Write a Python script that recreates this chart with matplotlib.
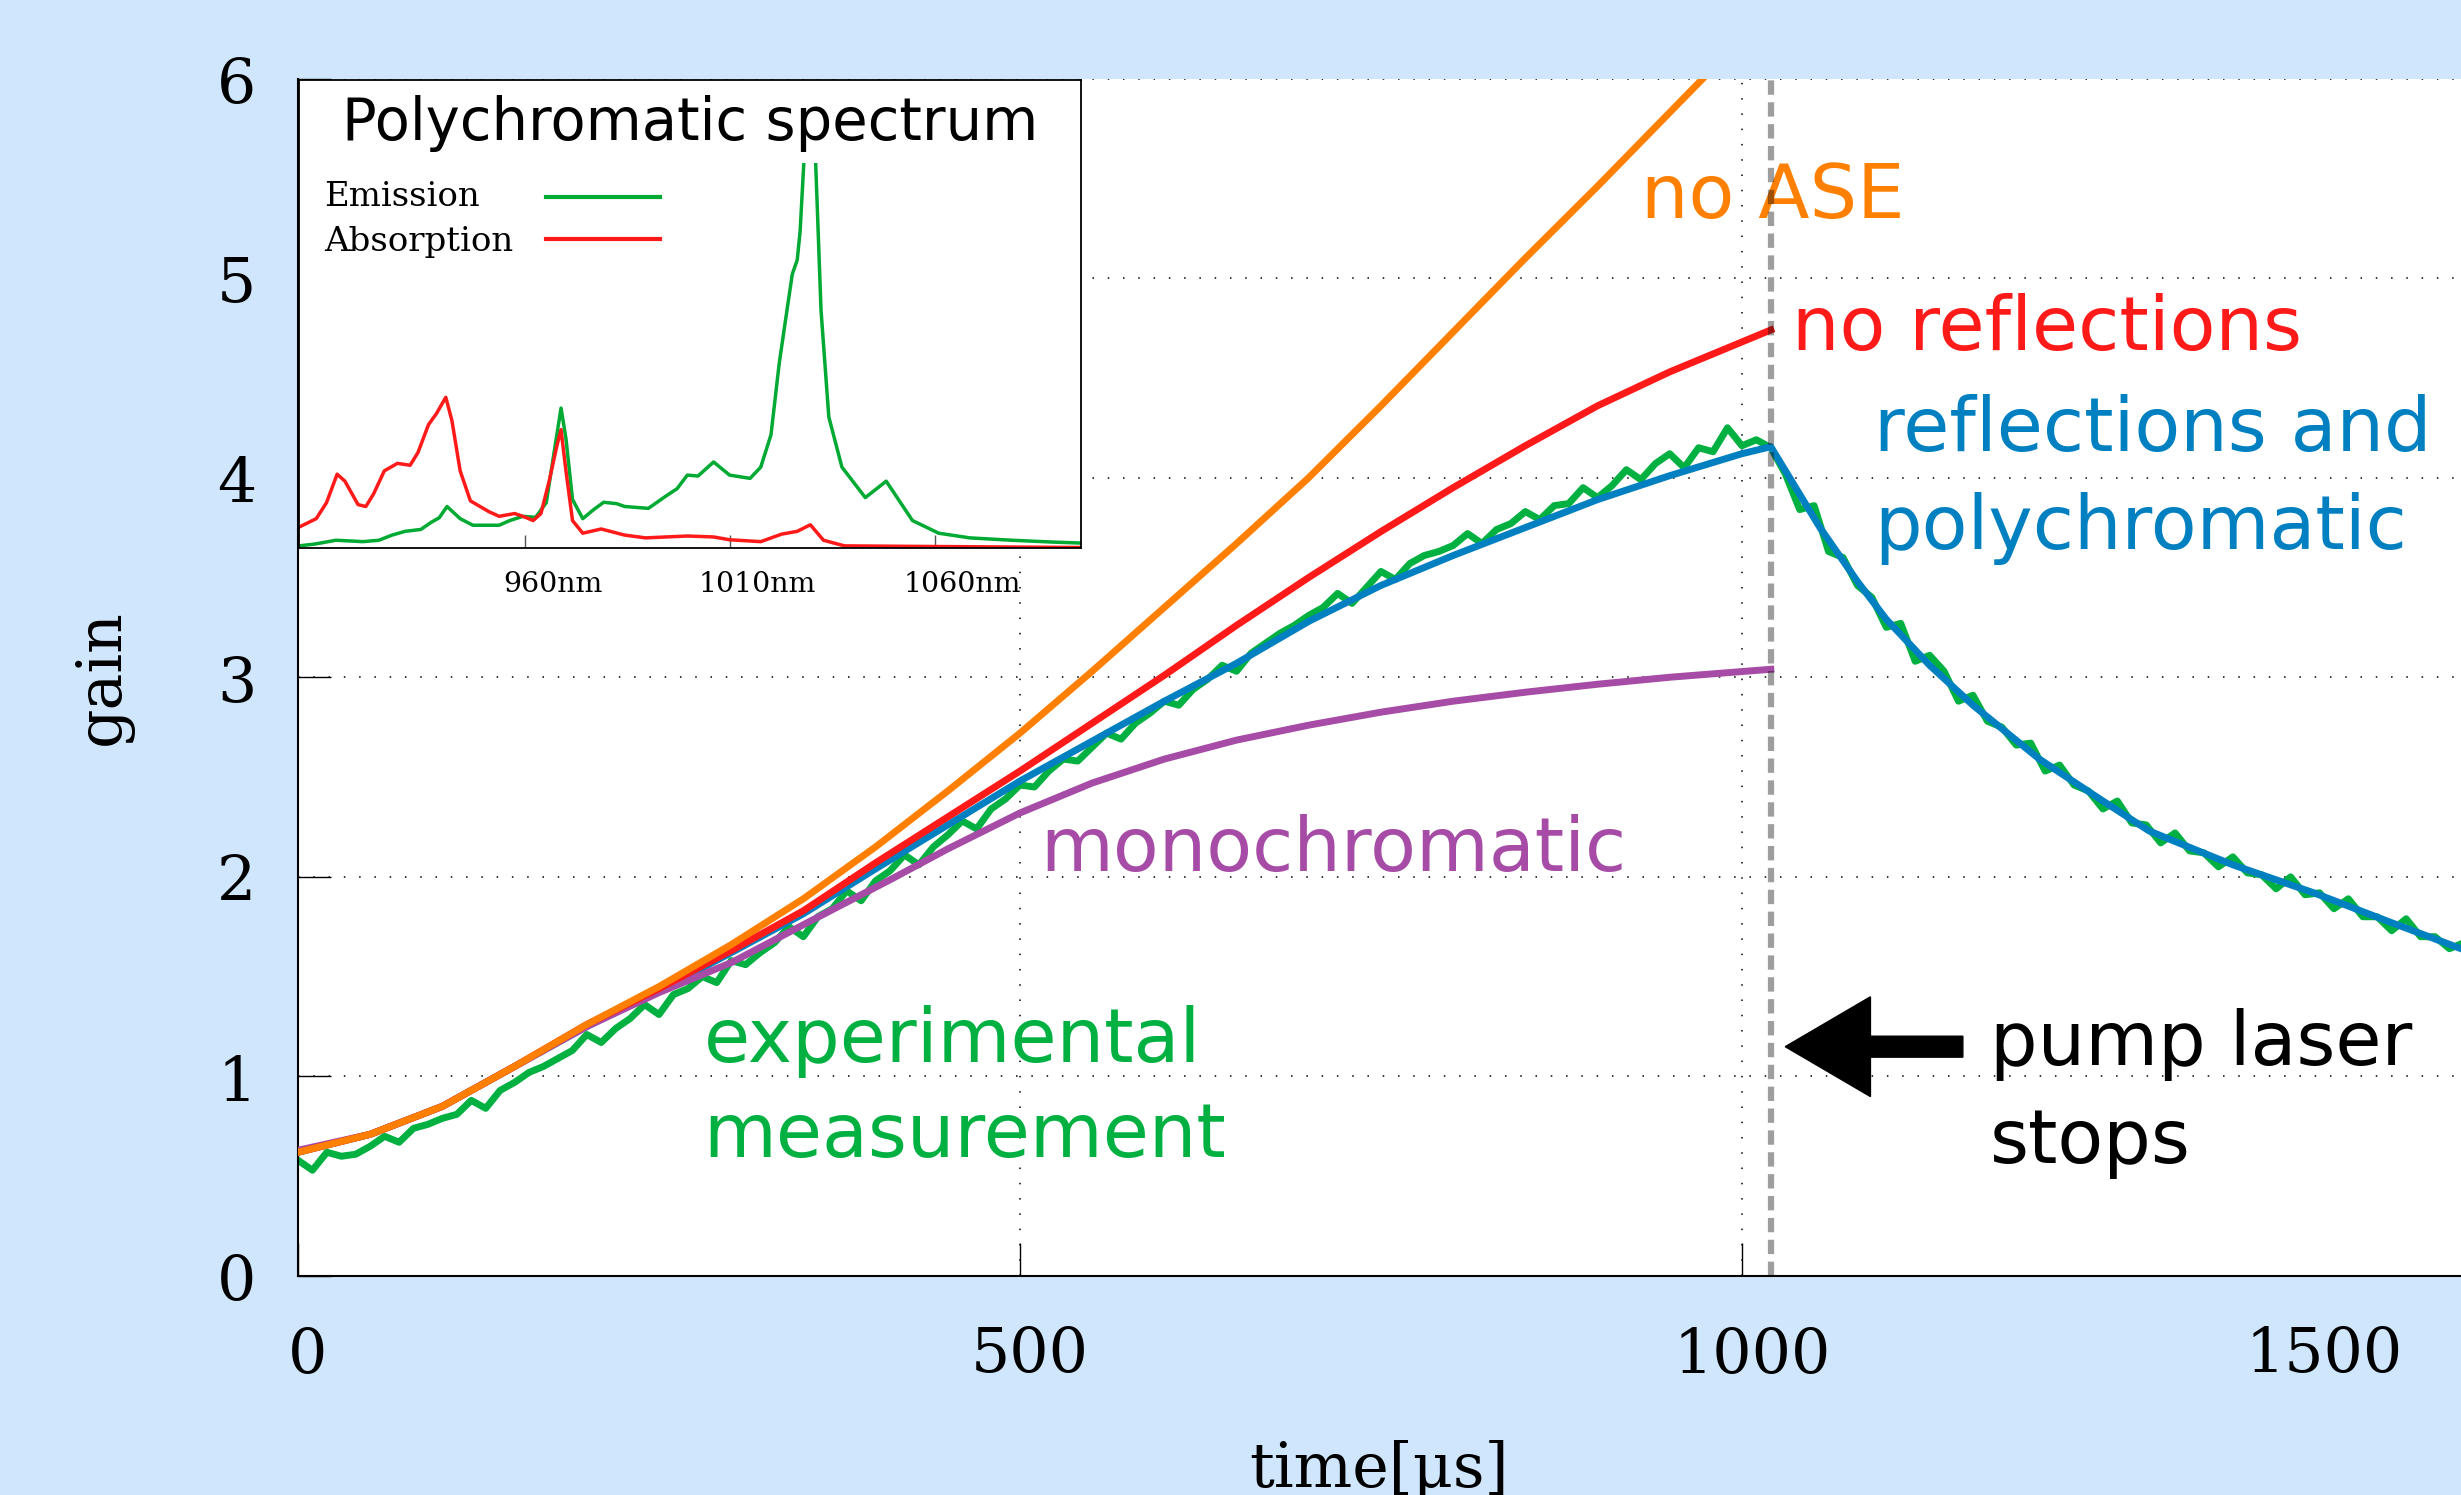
import numpy as np
import matplotlib
matplotlib.use("Agg")
import matplotlib.pyplot as plt
from matplotlib.patches import Rectangle
from matplotlib.transforms import ScaledTranslation

plt.rcParams['font.family'] = 'DejaVu Serif'

# --- model curves: time [us] -> gain ---
orange_t = [0, 50, 100, 150, 200, 250, 300, 350, 400, 450, 500, 550, 600, 650, 700, 750, 800, 850, 900, 950, 973]
orange_g = [0.62, 0.71, 0.85, 1.05, 1.26, 1.45, 1.66, 1.89, 2.15, 2.43, 2.72, 3.03, 3.35, 3.67, 4.00, 4.36, 4.73, 5.10, 5.46, 5.83, 6.00]

red_t = [0, 50, 100, 150, 200, 250, 300, 350, 400, 450, 500, 550, 600, 650, 700, 750, 800, 850, 900, 950, 1000, 1020]
red_g = [0.62, 0.71, 0.85, 1.05, 1.26, 1.44, 1.63, 1.83, 2.07, 2.30, 2.53, 2.77, 3.01, 3.26, 3.50, 3.73, 3.95, 4.16, 4.36, 4.53, 4.68, 4.74]

purple_t = [0, 50, 100, 150, 200, 250, 300, 350, 410, 450, 500, 550, 600, 650, 700, 750, 800, 850, 900, 950, 1020]
purple_g = [0.63, 0.71, 0.85, 1.05, 1.25, 1.42, 1.57, 1.76, 1.985, 2.14, 2.32, 2.47, 2.59, 2.685, 2.76, 2.825, 2.88, 2.925, 2.965, 3.00, 3.04]

blue_t = [0, 50, 100, 150, 200, 250, 300, 350, 400, 450, 500, 550, 600, 650, 700, 750, 800, 850, 900, 950, 1000, 1020,
          1054, 1080, 1100, 1130, 1160, 1206, 1250, 1282, 1340, 1396, 1450, 1498]
blue_g = [0.62, 0.71, 0.85, 1.05, 1.25, 1.43, 1.62, 1.815, 2.04, 2.26, 2.48, 2.68, 2.88, 3.07, 3.28, 3.46, 3.61, 3.75, 3.89, 4.01, 4.12, 4.155,
          3.75, 3.48, 3.29, 3.06, 2.86, 2.59, 2.38, 2.23, 2.06, 1.92, 1.77, 1.64]

# --- experimental measurement, sampled every 10 us ---
exp_t = np.arange(0, 1510, 10)
exp_g = [0.58, 0.53, 0.62, 0.60, 0.61, 0.65, 0.70, 0.67, 0.74, 0.76,
         0.79, 0.81, 0.88, 0.84, 0.93, 0.97, 1.02, 1.05, 1.09, 1.13,
         1.21, 1.17, 1.24, 1.29, 1.36, 1.31, 1.41, 1.44, 1.50, 1.47,
         1.58, 1.56, 1.62, 1.67, 1.75, 1.70, 1.80, 1.84, 1.93, 1.88,
         1.98, 2.03, 2.11, 2.06, 2.15, 2.21, 2.28, 2.24, 2.34, 2.39,
         2.46, 2.45, 2.53, 2.59, 2.58, 2.65, 2.72, 2.69, 2.77, 2.82,
         2.88, 2.86, 2.94, 2.99, 3.06, 3.03, 3.12, 3.17, 3.22, 3.26,
         3.31, 3.35, 3.42, 3.37, 3.45, 3.53, 3.49, 3.57, 3.61, 3.63,
         3.66, 3.72, 3.67, 3.74, 3.77, 3.83, 3.79, 3.86, 3.87, 3.95,
         3.90, 3.96, 4.04, 3.99, 4.07, 4.12, 4.05, 4.15, 4.13, 4.25,
         4.16, 4.19, 4.15, 4.02, 3.84, 3.86, 3.63, 3.60, 3.46, 3.40,
         3.25, 3.27, 3.08, 3.11, 3.03, 2.88, 2.91, 2.78, 2.75, 2.66,
         2.67, 2.53, 2.56, 2.46, 2.43, 2.34, 2.38, 2.27, 2.26, 2.17,
         2.22, 2.13, 2.12, 2.05, 2.10, 2.02, 2.01, 1.94, 2.00, 1.91,
         1.92, 1.84, 1.89, 1.80, 1.80, 1.73, 1.79, 1.70, 1.70, 1.64,
         1.67]

pump_stop = 1020

# --- inset spectrum (wavelength nm, arbitrary units) ---
em_nm = [905, 909, 914, 920.6, 924.5, 927.7, 930.9, 934.7, 937.2, 939.2, 941.1, 944.3, 947.4, 953.8, 956.4,
         959.6, 962.7, 965.3, 967.2, 968.9, 970.1, 971.7, 974.2, 976.8, 979.3, 982.5, 984.4, 990.2, 994.6,
         997.2, 999.7, 1002.3, 1006.1, 1010.0, 1015.0, 1017.6, 1020.1, 1022.1, 1024.0, 1025.3, 1026.5, 1027.2,
         1028.1, 1029.5, 1031.0, 1032.3, 1034.2, 1037.4, 1043.1, 1048.2, 1051.4, 1054.6, 1061.0, 1068.6,
         1078.8, 1089.0, 1095.7]
em_v = [0.5, 0.9, 1.7, 1.4, 1.7, 2.8, 3.6, 4.0, 5.5, 6.5, 8.9, 6.3, 4.9, 4.9, 5.9,
        6.8, 6.6, 9.7, 20.4, 29.9, 23.4, 10.4, 6.3, 8.2, 9.8, 9.5, 8.9, 8.5, 11.2,
        12.7, 15.6, 15.4, 18.4, 15.6, 14.9, 17.3, 24.2, 39.4, 50.8, 58.5, 61.5, 67.6,
        82.1, 105.0, 82.1, 50.8, 28.0, 17.3, 10.8, 14.3, 10.1, 5.9, 3.2, 2.2,
        1.7, 1.3, 1.1]

ab_nm = [905, 909.2, 911.7, 914.3, 916.2, 919.4, 921.3, 923.2, 925.8, 929.0, 932.1, 934.0, 936.6, 938.5,
         940.8, 942.3, 944.3, 946.8, 951.3, 953.8, 957.6, 960.2, 962.1, 964.0, 966.0, 967.9, 968.9, 970.1,
         971.7, 974.2, 978.7, 984.4, 989.5, 999.7, 1006.1, 1010.0, 1017.6, 1022.7, 1026.5, 1029.7, 1032.9,
         1038.0, 1053.3, 1095.7]
ab_v = [4.5, 6.3, 9.7, 15.8, 14.3, 9.3, 8.9, 11.6, 16.5, 18.1, 17.7, 20.4, 26.4, 28.7,
        32.2, 27.2, 16.5, 10.1, 7.8, 6.8, 7.4, 6.6, 5.9, 7.4, 14.3, 21.9, 25.3, 16.5,
        5.9, 3.2, 4.1, 2.8, 2.2, 2.6, 2.4, 1.8, 1.4, 3.0, 3.6, 5.0, 1.7,
        0.5, 0.4, 0.15]

c_orange = '#ff8000'
c_red = '#ff1a1a'
c_blue = '#0080c0'
c_purple = '#a64ca6'
c_green = '#00b040'
lw = 5.0

W, H = 2461, 1495
fig = plt.figure(figsize=(W / 100, H / 100), dpi=100, facecolor='#d0e6fc')
ax = fig.add_axes([298 / W, 1 - 1276 / H, (W - 298) / W, (1276 - 78.5) / H])
ax.set_xlim(0, 1498)
ax.set_ylim(0, 6)

ax.plot(exp_t, exp_g, color=c_green, lw=lw, zorder=2)
ax.plot(blue_t, blue_g, color=c_blue, lw=lw, zorder=3)
ax.plot(purple_t, purple_g, color=c_purple, lw=lw, zorder=3.1)
ax.plot(red_t, red_g, color=c_red, lw=lw, zorder=3.2)
ax.plot(orange_t, orange_g, color=c_orange, lw=lw, zorder=3.3)
ax.axvline(pump_stop, color='black', alpha=0.38, lw=4.5, linestyle=(0, (2.3, 1.2)), zorder=4)

# grid + axes look
ax.set_xticks([0, 500, 1000])
ax.set_yticks(range(7))
ax.grid(True, color='black', linestyle=(0, (1, 9)), linewidth=1.1)
ax.tick_params(direction='in', length=23.8, width=1, labelsize=44.5)
ax.tick_params(axis='x', pad=35)
ax.tick_params(axis='y', pad=30)
for s in ['top', 'right']:
    ax.spines[s].set_visible(False)
for s in ['left', 'bottom']:
    ax.spines[s].set_linewidth(1.5)
for lab in ax.get_xticklabels():
    lab.set_transform(lab.get_transform() + ScaledTranslation(0.1, 0, fig.dpi_scale_trans))
ax.text(1403, -0.0406, '1500', transform=ax.get_xaxis_transform(), ha='center', va='top', fontsize=44.5)

fig.text(103 / W, 1 - 677 / H, 'gain', rotation=90, ha='center', va='center', fontsize=44.5)
fig.text(1379 / W, 1 - 1486.7 / H, 'time[µs]', ha='center', va='baseline', fontsize=44.5)

# annotations
sans = dict(family='DejaVu Sans', fontsize=54, va='baseline', ha='left')
ax.text(930, 5.30, 'no ASE', color=c_orange, **sans)
ax.text(1034.6, 4.64, 'no reflections', color=c_red, **sans)
ax.text(1091.8, 4.133, 'reflections and', color=c_blue, **sans)
ax.text(1091.8, 3.641, 'polychromatic', color=c_blue, **sans)
ax.text(514.3, 2.027, 'monochromatic', color=c_purple, **sans)
ax.text(281, 1.074, 'experimental', color=c_green, **sans)
ax.text(281, 0.598, 'measurement', color=c_green, **sans)
ax.text(1171.8, 1.057, 'pump laser', color='black', **sans)
ax.text(1171.8, 0.566, 'stops', color='black', **sans)
ax.arrow(1153, 1.149, -123, 0, width=0.105, head_width=0.50, head_length=59,
         length_includes_head=True, color='black', zorder=5)

# inset: spectrum
ax_in = fig.add_axes([299 / W, 1 - 548.2 / H, 782 / W, 468.6 / H])
ax_in.set_facecolor('white')
ax_in.set_xlim(905, 1095.7)
ax_in.set_ylim(0, 100)
clip = Rectangle((905, 0), 190.7, 82.1, transform=ax_in.transData)
l1, = ax_in.plot(em_nm, em_v, color='#00aa33', lw=2.5)
l2, = ax_in.plot(ab_nm, ab_v, color=c_red, lw=2.5)
l1.set_clip_path(clip)
l2.set_clip_path(clip)
ax_in.set_yticks([])
ax_in.set_xticks([960, 1010, 1060])
ax_in.set_xticklabels(['960nm', '1010nm', '1060nm'])
ax_in.tick_params(axis='x', direction='in', length=9.4, width=1, color='#555555', labelsize=20.5, pad=16.5)
for lab in ax_in.get_xticklabels():
    lab.set_transform(lab.get_transform() + ScaledTranslation(0.28, 0, fig.dpi_scale_trans))
for s in ax_in.spines.values():
    s.set_linewidth(1.3)

ax_in.text(0.5, 0.871, 'Polychromatic spectrum', transform=ax_in.transAxes, ha='center',
           va='baseline', fontsize=41.5, family='DejaVu Sans')
ax_in.text(0.0326, 0.730, 'Emission', transform=ax_in.transAxes, va='baseline', fontsize=24.5)
ax_in.text(0.0326, 0.634, 'Absorption', transform=ax_in.transAxes, va='baseline', fontsize=24.5)
ax_in.plot([0.316, 0.462], [0.750, 0.750], color='#00aa33', lw=3, transform=ax_in.transAxes)
ax_in.plot([0.316, 0.462], [0.659, 0.659], color=c_red, lw=3, transform=ax_in.transAxes)

fig.savefig('out.png', dpi=100, facecolor=fig.get_facecolor())
